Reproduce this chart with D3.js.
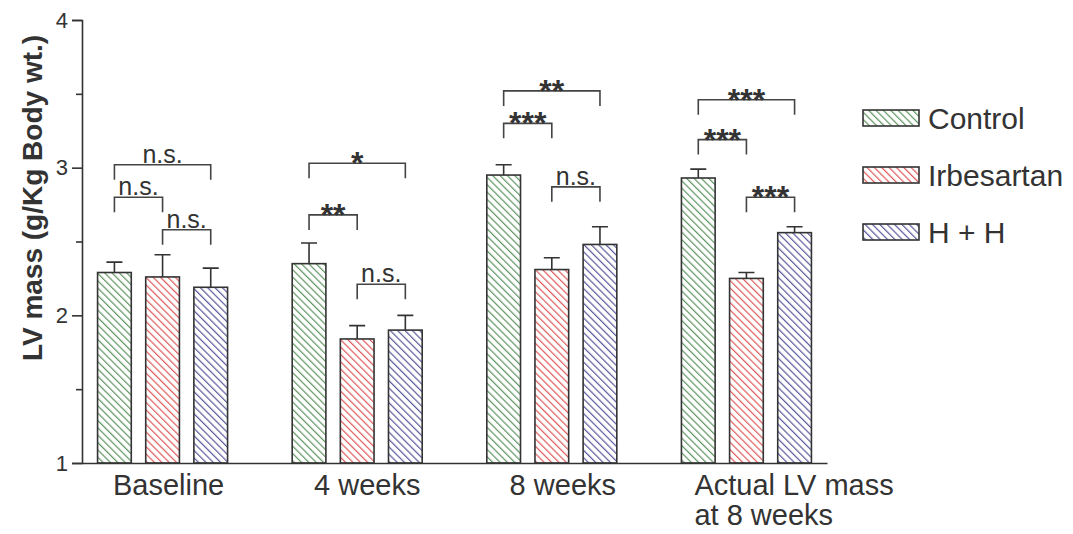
<!DOCTYPE html>
<html>
<head>
<meta charset="utf-8">
<script src="https://cdn.jsdelivr.net/npm/d3@7"></script>
<style>
  body { margin: 0; background: #fff; }
  text { font-family: "Liberation Sans", Arial, sans-serif; fill: #333; }
</style>
</head>
<body>
<svg id="chart" width="1073" height="534"></svg>
<script>
// data
var groups = ["Baseline", "4 weeks", "8 weeks", "Actual LV mass at 8 weeks"];
var series = ["Control", "Irbesartan", "H + H"];
var means = [
    [2.29, 2.26, 2.19],
    [2.35, 1.84, 1.90],
    [2.95, 2.31, 2.48],
    [2.93, 2.25, 2.56]
];
var errTops = [
    [2.36, 2.41, 2.32],
    [2.49, 1.93, 2.00],
    [3.02, 2.39, 2.60],
    [2.99, 2.29, 2.60]
];
var yTicks = [1, 2, 3, 4];
var yMinor = [1.5, 2.5, 3.5];
// significance brackets: group, from series, to series, level (axis units), label
var brackets = [
    [0, 0, 2, 3.02, "n.s."], [0, 0, 1, 2.80, "n.s."], [0, 1, 2, 2.58, "n.s."],
    [1, 0, 2, 3.03, "*"],    [1, 0, 1, 2.68, "**"],   [1, 1, 2, 2.21, "n.s."],
    [2, 0, 2, 3.52, "**"],   [2, 0, 1, 3.30, "***"],  [2, 1, 2, 2.87, "n.s."],
    [3, 0, 2, 3.46, "***"],  [3, 0, 1, 3.19, "***"],  [3, 1, 2, 2.80, "***"]
];
var hatchColors = ["#5e9660", "#e05a5a", "#5a5a9c"];

var svg = d3.select("#chart");
var ink = "#333";

var x0 = d3.scaleBand().domain(groups).range([82, 827])
    .paddingInner(0.332).paddingOuter(0.08);
var x1 = d3.scaleBand().domain(series).range([0, x0.bandwidth()]).paddingInner(0.3);
var y = d3.scaleLinear().domain([1, 4]).range([463, 20]);

// hatch patterns
var defs = svg.append("defs");
series.forEach(function (s, i) {
    var p = defs.append("pattern")
        .attr("id", "hatch" + i)
        .attr("patternUnits", "userSpaceOnUse")
        .attr("width", 5.2).attr("height", 5.2)
        .attr("patternTransform", "rotate(-45)");
    p.append("rect").attr("width", 5.2).attr("height", 5.2).attr("fill", "#fff");
    p.append("line").attr("x1", 0).attr("y1", 0).attr("x2", 0).attr("y2", 5.2)
        .attr("stroke", hatchColors[i]).attr("stroke-width", 2.4);
});

// bars
var g = svg.append("g");
var rows = [];
groups.forEach(function (gr, gi) {
    series.forEach(function (s, si) {
        rows.push({ group: gr, s: s, si: si, v: means[gi][si], e: errTops[gi][si] });
    });
});

g.selectAll(".err")
    .data(rows)
    .enter().append("path")
    .attr("class", "err")
    .attr("fill", "none").attr("stroke", ink).attr("stroke-width", 1.6)
    .attr("d", function (d) {
        var cx = x0(d.group) + x1(d.s) + x1.bandwidth() / 2;
        return "M" + cx + "," + y(d.v) + "V" + y(d.e) +
            "M" + (cx - 8) + "," + y(d.e) + "H" + (cx + 8);
    });

g.selectAll(".bar")
    .data(rows)
    .enter().append("rect")
    .attr("class", "bar")
    .attr("x", function (d) { return x0(d.group) + x1(d.s); })
    .attr("y", function (d) { return y(d.v); })
    .attr("width", x1.bandwidth())
    .attr("height", function (d) { return y(1) - y(d.v); })
    .attr("fill", function (d) { return "url(#hatch" + d.si + ")"; })
    .attr("stroke", ink).attr("stroke-width", 1.6);

// axes
var yAxis = svg.append("g")
    .attr("transform", "translate(82,0)")
    .call(d3.axisLeft(y).tickValues(yTicks).tickFormat(d3.format("d")).tickSize(10).tickPadding(4));
yAxis.selectAll(".tick text").style("font-size", "22px");
svg.append("g")
    .attr("transform", "translate(82,0)")
    .call(d3.axisLeft(y).tickValues(yMinor).tickFormat("").tickSize(6).tickSizeOuter(0))
    .select(".domain").remove();

var xAxis = svg.append("g")
    .attr("transform", "translate(0,463)")
    .call(d3.axisBottom(x0).tickSize(0).tickSizeOuter(0).tickPadding(0));
var labelShift = [6, 10, 11];
xAxis.selectAll(".tick text").each(function (d, i) {
    var t = d3.select(this).attr("dy", null).attr("y", 32).style("font-size", "29px");
    if (i === groups.length - 1) {
        t.text(null).attr("text-anchor", "start");
        t.append("tspan").attr("x", -x0.bandwidth() / 2 + 13).text("Actual LV mass");
        t.append("tspan").attr("x", -x0.bandwidth() / 2 + 13).attr("dy", 30).text("at 8 weeks");
    } else {
        t.attr("dx", labelShift[i]);
    }
});

svg.selectAll(".domain, .tick line").attr("stroke", ink).attr("stroke-width", 1.6);
svg.selectAll(".tick text").attr("fill", ink);

// y title
svg.append("text")
    .attr("transform", "translate(42,198) rotate(-90)")
    .attr("text-anchor", "middle")
    .style("font-size", "28px").style("font-weight", "bold")
    .text("LV mass (g/Kg Body wt.)");

// brackets
var bg = svg.append("g");
brackets.forEach(function (b) {
    var gr = groups[b[0]];
    var xa = x0(gr) + x1(series[b[1]]) + x1.bandwidth() / 2;
    var xb = x0(gr) + x1(series[b[2]]) + x1.bandwidth() / 2;
    var yy = y(b[3]);
    bg.append("path")
        .attr("fill", "none").attr("stroke", "#444").attr("stroke-width", 1.6)
        .attr("d", "M" + xa + "," + (yy + 15) + "V" + yy + "H" + xb + "V" + (yy + 15));
    var star = b[4].indexOf("*") >= 0;
    bg.append("text")
        .attr("x", (xa + xb) / 2)
        .attr("y", star ? yy + 11 : yy - 2)
        .attr("text-anchor", "middle")
        .style("font-size", star ? "32px" : "25px")
        .style("font-weight", star ? "bold" : "normal")
        .text(b[4]);
});

// legend
var lg = svg.append("g");
series.forEach(function (s, i) {
    var cy = 118 + i * 57;
    lg.append("rect")
        .attr("x", 863).attr("y", cy - 8).attr("width", 56).attr("height", 16)
        .attr("fill", "url(#hatch" + i + ")")
        .attr("stroke", ink).attr("stroke-width", 1.6);
    lg.append("text")
        .attr("x", 928).attr("y", cy).attr("dy", "0.36em")
        .style("font-size", "30px")
        .text(s);
});
</script>
</body>
</html>
